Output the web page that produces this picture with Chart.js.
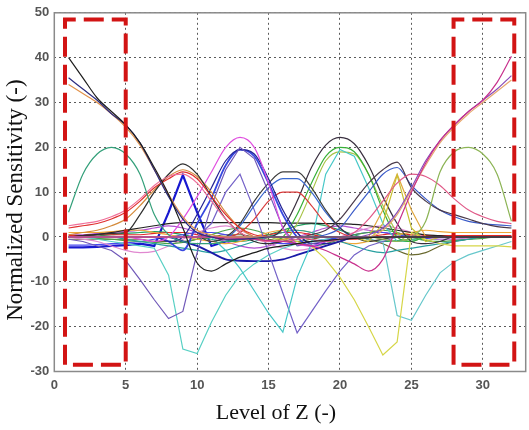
<!DOCTYPE html>
<html>
<head>
<meta charset="utf-8">
<script src="https://cdn.jsdelivr.net/npm/chart.js@4/dist/chart.umd.min.js"></script>
<style>
html,body{margin:0;padding:0;background:#fff;}
#wrap{width:529px;height:430px;}
</style>
</head>
<body>
<div id="wrap"><canvas id="c" width="529" height="430"></canvas></div>
<script>
// Level of Z (x values)
const levels = [1,2,3,4,5,6,7,8,9,10,11,12,13,14,15,16,17,18,19,20,21,22,23,24,25,26,27,28,29,30,31,32];

// Normalized sensitivity curves
const blackDecayL  = [40,35.5,31,28,25,21,15.5,9.5,2,-5.8,-7.6,-6,-4.5,-3.5,-2.5,-2,-1.5,-1,-0.8,-0.5,-0.3,-0.2,0,0,0,0,0,0,0,0,0,0];
const navyDecayL   = [35.5,33,30.5,27.5,25,21,15,9,4,1,0,-0.5,-0.5,-0.3,0,0,0,0,0,0,0,0,0,0,0,0,0,0,0,0,0,0];
const orangeDecayL = [34,32,30,27.5,24.5,20.5,15,9.5,4.5,1.5,0.5,0,0,0,0,0,0,0,0,0,0,0,0,0,0,0,0,0,0,0,0,0];
const magentaRiseR = [0,0,0,0,0,0,0,0,0,0,0,-0.2,-0.3,-0.5,-0.8,-1,-1.5,-2,-3,-4.5,-6,-7.6,-5,2.5,10,16.5,21.5,25,28,30.5,34.5,40.3];
const purpleRiseR  = [0,0,0,0,0,0,0,0,0,0,0,0,0,0,0,0,0,0,0,0,0,0.5,2,5.5,11,17,21.5,25,28,30.5,33,36];
const orangeRiseR  = [0,0,0,0,0,0,0,0,0,0,0,0,0,0,0,0,0,0,0,0,0,0,1.5,5,10.5,16,21,24.5,27.5,30,32.5,35];
const greenBumpL   = [5.5,14,18.5,20,18.5,14,5,0.5,-1,-1.5,-1.5,-1,-0.5,0,0,0,0,0,0,0,0,0,0,0,0,0,0,0,0,0,0,0];
const greenBumpR   = [0,0,0,0,0,0,0,0,0,0,0,0,0,0,0,0,0,0,0,0,0,0,-0.5,-1,0,3.5,14.5,19,20,18.5,14,3.5];
const pinkRiseL    = [2.5,3,3.5,4.5,6,8.5,11.5,13.5,14,12,8,4,1,-0.5,-1,-1,-0.5,0,0,0,0,0,0,0,0,0,0,0,0,0,0,0];
const redRiseL     = [2,2.5,3,4,5.5,8,11,13,14.5,13,9,5,2,0.5,0,0,0,0,0,0,0,0,0,0,0,0,0,0,0,0,0,0];
const pinkDecayR   = [0,0,0,0,0,0,0,0,0,0,0,0,0,0,0,0,0,-0.5,-1,-0.5,1,4,8,12,14,13.5,11.5,8.5,6,4.5,3.5,3];
const blackPeak9   = [0,0.3,0.5,0.8,1,5,10,14,16.3,14,9,4,1,-1,-1.5,-1,-0.5,0,0,0,0,0,0,0,0,0,0,0,0,0,0,0];
const orangePeak9  = [0.5,1,1.5,2.5,4,7,10.5,13.5,15,13.5,10,5.5,2,0,-1,-0.5,0,0,0,0,0,0,0,0,0,0,0,0,0,0,0,0];
const darkPeak24   = [0,0,0,0,0,0,0,0,0,0,0,0,0,0,0,0,0,0.5,1.5,4,8,12,15,16.7,11,8,6,5,4,3,2.3,2];
const bluePeak24   = [0,0,0,0,0,0,0,0,0,0,0,0,0,0,0,0,0,0,0.5,2,6,10,14,15.5,11.5,8.5,6,4.5,3.5,3,2.7,2.5];
const yellowTri24  = [0,0,0,0,0,0,0,0,0,0,0,0,0,0,0,0,0,0,0,0,0,-1,3,13.8,2,-1,0,0,0,0,0,0];
const orangeTri24  = [0,0,0,0,0,0,0,0,0,0,0,0,0,0,0,0,0,0,0,0,0,0,6,14,6,0,0,0,0,0,0,0];
const blueTri9     = [-2.3,-2.3,-2.2,-2,-1.8,-1.5,-2,5.5,13.8,5.5,-2,-1,-0.5,0,0,0,0,0,0,0,0,0,0,0,0,0,0,0,0,0,0,0];
const magentaPk13  = [0,0,0,0,0,-0.5,-1,0,4,9,14.5,20,22.2,20,12,2,-1.5,-2,-1,-0.5,0,0,0,0,0,0,0,0,0,0,0,0];
const purpleDipL   = [-0.5,-1,-2,-3,-5.3,-9.5,-14,-18.2,-16.6,-3.5,7,15,20,17.5,10,2,-2,-1.5,-1,-0.5,0,0,0,0,0,0,0,0,0,0,0,0];
const navyPeak13   = [0,0,0,0,0,0,0,-1,0,5,11,17,19.5,18.5,13,6,1,-1.5,-1.5,-1,0,0,0,0,0,0,0,0,0,0,0,0];
const bluePeak13   = [0,0,0,0,0,0,0,-1,-3,3,8.7,16,19.5,18,12,5,0,-2,-1,0,0,0,0,0,0,0,0,0,0,0,0,0];
const darkPeak16   = [0,0,0,0,0,0,0,0,0,0,-1,0,3,8,12,14.5,14.5,11,6,2,0,-1,-0.5,0,0,0,0,0,0,0,0,0];
const bluePeak16   = [0,0,0,0,0,0,0,0,0,0,0,0,2.5,7,11,13,13,10,5.5,2,0,0,0,0,0,0,0,0,0,0,0,0];
const redPeak16    = [0,0,0,0,0,0,0,0,0,0,0,0,1,4,8,10,10,7,3,1,0,0,0,0,0,0,0,0,0,0,0,0];
const darkPeak20   = [0,0,0,0,0,0,0,0,0,0,0,0,0,0,0,2,8,15.5,20.5,22.2,20.8,16,9,3,-1,-1.5,-1,0,0,0,0,0];
const greenPeak20  = [0,0,0,0,0,0,0,0,0,0,0,0,0,0,-1,0,5,12,18,20,19,14,6,0,-1,0,0,0,0,0,0,0];
const cyanDip16    = [0,0,0,0,0,0,0,0,0,0,0,-3,-7,-12,-17,-21.2,-9,-1.5,14,19.5,18,11,3,-1,-1,0,0,0,0,0,0,0];
const olivePeak20  = [0,0,0,0,0,0,0,0,0,0,0,0,0,0,0,-1,3,10,17,19,18.5,14,7,1,-1,0,0,0,0,0,0,0];
const purpleDip17  = [0,0,0,0,0,0,0,0,0,0,3,10,14,6,-3.5,-12.5,-21.4,-16.7,-12,-7.6,-4,-2,-1,0,0,0,0,0,0,0,0,0];
const yellowDip23  = [0,0,0,0,0,0,0,0,0,0,0,0,0,0,0,-0.5,-1,-2,-5,-9,-14,-20,-26.3,-23.4,1,-0.5,-1.5,-2,-2,-2,-2,-2.2];
const cyanDipL     = [0,0,-0.5,-1,-1.5,-2,-2.5,-8.5,-25,-26,-19,-13,-8.5,-6,-4,-2.5,-1.5,-1,-0.5,0,0,0,0,0,0,0,0,0,0,0,0,0];
const cyanDipR     = [0,0,0,0,0,0,0,0,0,0,0,0,0,0,0,0,0,0,0,0,0,-0.5,-1,-17.5,-18.6,-13,-8,-5.5,-4,-3,-2,-1];
const blackFlat3   = [0,0.3,0.6,1,1.5,2,2.5,3,3.2,3.2,3.2,3.2,3.2,3.2,3.2,3.1,3.1,3.1,3,3,2.8,2.5,2,1.5,1,0.5,0.3,0,0,0,0,0];
const navyNeg5     = [0,0,0,0,0,0,0,0,-1,-2,-3.5,-5,-5.3,-5.4,-5.4,-5,-4,-3,-2,-1,0,0,0,0,0,0,0,0,0,0,0,0];
const teal0        = [0,0,0,0,-0.5,-1,-1.5,-2,-2.5,-3,-3.5,-3,-2,-1,0,1,1.5,1,0,-1,-2,-3,-3.5,-3,-2.5,-2,-1.5,-1,-0.5,0,0,0];
const orange0      = [1,1,1,1.2,1.5,1.5,1,0.5,0,-0.5,-1,-1.5,-1,0,1,1.5,1.5,1,0,-1,-1.5,-1,-0.5,0.5,1,1.5,1.2,1,1,1,1,1];
const green0       = [0,0,-0.3,-0.5,-0.8,-1,-1.2,-1.5,-1.2,-0.5,0.5,1.5,2,1.5,0.5,-0.5,-1.5,-2,-1.5,-0.5,0.5,1,1.5,1,0,-0.8,-1,-0.8,-0.5,-0.3,0,0];
const pink0        = [0,-0.5,-1,-2,-3,-3.5,-3.2,-2,-0.5,1,2,2.5,1.5,0,-1.5,-2.5,-3,-2.5,-1.5,0,1,2,2.5,2,1,0,-0.5,-0.5,-0.3,0,0,0];
const blue0        = [-1.8,-1.8,-1.7,-1.5,-1.3,-1,-0.5,0,0.5,1,1,0.5,0,-0.5,-1,-1.5,-1.5,-1,-0.5,0,0.5,1,1,0.5,0,-0.3,-0.5,-0.5,-0.3,0,0,0];
const olive0       = [-0.5,-0.5,-0.5,-0.5,-0.5,-0.5,-1,-1,-1,-0.5,0,0.5,0.5,0,-0.5,-1,-1,-0.5,0,0,0,-0.5,-1.5,-3,-4,-3.5,-2,-1,-0.5,0,0,0];
const red0         = [0.3,0.3,0.5,0.5,0.5,0.5,0.8,1,1,0.5,0,-0.5,-0.5,0,0.5,1,1,0.5,0,-0.5,-0.5,0,0.5,0.8,0.5,0.3,0.3,0.3,0.3,0.3,0.3,0.3];
const violet1      = [0.5,0.5,0.8,1,1.2,1.5,2,2.5,2,1,0,-1,-2,-2.5,-2,-1,0,1,2,2.5,2,1.5,1,0.5,0.3,0.2,0.1,0,0,0,0,0];
const green1       = [0,0,0.2,0.5,0.8,1,1.2,1,0.5,0,-0.5,-1,-1,-0.5,0.5,1.5,2.5,3,2.5,1.5,0.5,-0.5,-1,-0.8,-0.5,-0.3,0,0.2,0.3,0.3,0.2,0];

// which curves are smooth (rest drawn with straight segments)
const smoothSet = [blackDecayL,navyDecayL,orangeDecayL,magentaRiseR,purpleRiseR,orangeRiseR,greenBumpL,greenBumpR,
  pinkRiseL,redRiseL,pinkDecayR,blackPeak9,orangePeak9,darkPeak24,bluePeak24,magentaPk13,navyPeak13,bluePeak13,
  darkPeak16,bluePeak16,redPeak16,darkPeak20,greenPeak20,olivePeak20,blackFlat3,navyNeg5,teal0,orange0,green0,pink0,blue0,olive0,red0,violet1,green1];

const seriesList = [
  [blackDecayL,'#1e1e1e'],[navyDecayL,'#2c2c80'],[orangeDecayL,'#e2924a'],
  [magentaRiseR,'#c8308c'],[purpleRiseR,'#8a4cb8'],[orangeRiseR,'#e8a870'],
  [greenBumpL,'#34a07a'],[greenBumpR,'#8cb455'],
  [pinkRiseL,'#f0709a'],[redRiseL,'#e03030'],[pinkDecayR,'#e05a88'],
  [blackPeak9,'#303030'],[orangePeak9,'#d48a3a'],
  [darkPeak24,'#4a3a4a'],[bluePeak24,'#3a5ac8'],[yellowTri24,'#c8c030'],[orangeTri24,'#e0a840'],
  [magentaPk13,'#e050e0'],[purpleDipL,'#7058b8'],[navyPeak13,'#242494'],[bluePeak13,'#3848e0'],
  [darkPeak16,'#3c3c3c'],[bluePeak16,'#3868d0'],[redPeak16,'#d83838'],
  [darkPeak20,'#3a3040'],[greenPeak20,'#38b038'],[cyanDip16,'#48c8c8'],[olivePeak20,'#a8c448'],
  [purpleDip17,'#7462c8'],[yellowDip23,'#d6d648'],[cyanDipL,'#58d0c4'],[cyanDipR,'#68c8cc'],
  [blackFlat3,'#222222'],[navyNeg5,'#1a1aa8'],
  [teal0,'#28a0a0'],[orange0,'#f0a838'],[green0,'#48a048'],[pink0,'#e088d0'],[blue0,'#4848f0'],[olive0,'#6a6a30'],[red0,'#e02828'],
  [violet1,'#b050d0'],[green1,'#20a060']
];

// Red dashed highlight boxes (data coordinates)
const leftBoxX  = [0.75, 0.75, 5.0, 5.0, 0.75];
const leftBoxY  = [-28.5, 48.5, 48.5, -28.5, -28.5];
const rightBoxX = [27.95, 27.95, 32.2, 32.2, 27.95];
const rightBoxY = [-28.5, 48.5, 48.5, -28.5, -28.5];

const xTicksStep = 5, yTicksStep = 10;
const xTitle = 'Level of Z (-)';
const yTitle = 'Normalized Sensitivity (-)';

const toPts = (xs, ys) => xs.map((x, i) => ({x: x, y: ys[i]}));

const datasets = [];
datasets.push({data: toPts(leftBoxX, leftBoxY), borderColor:'#d21414', borderWidth:4, borderDash:[20,8], pointRadius:0, tension:0, fill:false, order:-1});
datasets.push({data: toPts(rightBoxX, rightBoxY), borderColor:'#d21414', borderWidth:4, borderDash:[20,8], pointRadius:0, tension:0, fill:false, order:-1});
seriesList.forEach(([vals, col]) => {
  const smooth = smoothSet.includes(vals);
  datasets.push({data: toPts(levels, vals), borderColor: col,
    borderWidth: (col==='#3848e0'||col==='#1a1aa8')?1.8:1.2,
    pointRadius:0, tension: smooth?0.4:0, cubicInterpolationMode: smooth?'monotone':'default', fill:false});
});
// thick blue triangle
datasets.push({data: toPts(levels, blueTri9), borderColor:'#1818d0', borderWidth:2.2, pointRadius:0, tension:0, fill:false});

const frame = {
  id:'frame',
  afterDatasetsDraw(chart){
    const {ctx, chartArea:a} = chart;
    ctx.save();
    ctx.strokeStyle = '#8a8a8a';
    ctx.lineWidth = 1.5;
    ctx.strokeRect(a.left, a.top, a.right - a.left, a.bottom - a.top);
    ctx.restore();
  },
  afterDraw(chart){
    const {ctx, chartArea:a} = chart;
    ctx.save();
    ctx.fillStyle = '#111';
    ctx.font = '22px "Liberation Serif"';
    ctx.textAlign = 'center';
    ctx.textBaseline = 'middle';
    ctx.fillText(xTitle, (a.left + a.right)/2 - 14, a.bottom + 42);
    ctx.translate(16, (a.top + a.bottom)/2 + 8);
    ctx.rotate(-Math.PI/2);
    ctx.font = '23px "Liberation Serif"';
    ctx.fillText(yTitle, 0, 0);
    ctx.restore();
  }
};

new Chart(document.getElementById('c'), {
  type:'line',
  data:{datasets},
  plugins:[frame],
  options:{
    responsive:false,
    animation:false,
    events:[],
    layout:{padding:{top:9.5, right:3.3, left:0, bottom:0}},
    plugins:{legend:{display:false}, tooltip:{enabled:false}},
    scales:{
      x:{
        type:'linear', min:0, max:33,
        afterFit(s){ s.height = 58.5; },
        ticks:{stepSize:xTicksStep, includeBounds:false, color:'#555', padding:6, font:{family:'Liberation Sans', size:13, weight:'bold'}},
        grid:{color:'#5a5a5a', lineWidth:1, drawTicks:false},
        border:{display:false, dash:[2,3]},
        title:{display:false}
      },
      y:{
        type:'linear', min:-30, max:50,
        afterFit(s){ s.width = 54.3; },
        ticks:{stepSize:yTicksStep, color:'#555', padding:5, font:{family:'Liberation Sans', size:13, weight:'bold'}},
        grid:{color:'#5a5a5a', lineWidth:1, drawTicks:false},
        border:{display:false, dash:[2,3]},
        title:{display:false}
      }
    }
  }
});
</script>
</body>
</html>
